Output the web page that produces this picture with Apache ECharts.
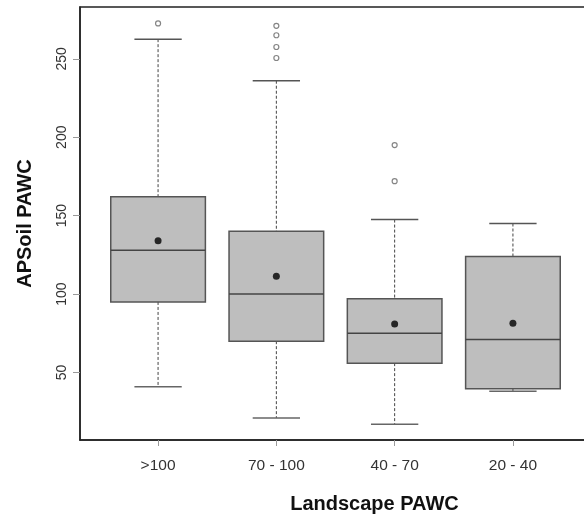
<!DOCTYPE html>
<html>
<head>
<meta charset="utf-8">
<script src="https://cdn.jsdelivr.net/npm/echarts@6/dist/echarts.min.js"></script>
<style>
  html, body { margin: 0; padding: 0; background: #fff; }
  #chart { width: 584px; height: 515px; }
</style>
</head>
<body>
<div id="chart"></div>
<script>
// 类别
const categories = ['>100', '70 - 100', '40 - 70', '20 - 40'];
// 每个箱子: [下须, Q1, 中位数, Q3, 上须]
const lowWhisker = [41, 21, 17, 38];
const q1 = [95, 70, 56, 39.6];
const median = [128, 100, 75, 71];
const q3 = [162, 140, 97, 124];
const highWhisker = [262.5, 236, 147.5, 145];
const means = [134, 111.3, 81, 81.4];
// 离群点, 按类别
const outliers = [[272.5], [271, 265, 257.5, 250.5], [195, 172], []];
const yTicks = [50, 100, 150, 200, 250];

const chart = echarts.init(document.getElementById('chart'), null, { renderer: 'canvas' });

const boxData = categories.map((c, i) => [i + 1, lowWhisker[i], q1[i], median[i], q3[i], highWhisker[i]]);
const meanData = categories.map((c, i) => [i + 1, means[i]]);
const outlierData = [];
outliers.forEach((list, i) => list.forEach(v => outlierData.push([i + 1, v])));

function renderBox(params, api) {
  const x = api.value(0);
  const lo = api.coord([x, api.value(1)]);
  const b1 = api.coord([x, api.value(2)]);
  const md = api.coord([x, api.value(3)]);
  const b3 = api.coord([x, api.value(4)]);
  const hi = api.coord([x, api.value(5)]);
  const band = api.size([1, 0])[0];
  const half = band * 0.4;
  const cap = band * 0.2;
  const cx = lo[0];
  return {
    type: 'group',
    children: [
      { type: 'line', shape: { x1: cx, y1: hi[1], x2: cx, y2: b3[1] },
        style: { stroke: '#444', lineWidth: 1, lineDash: [3, 2] } },
      { type: 'line', shape: { x1: cx, y1: b1[1], x2: cx, y2: lo[1] },
        style: { stroke: '#444', lineWidth: 1, lineDash: [3, 2] } },
      { type: 'line', shape: { x1: cx - cap, y1: hi[1], x2: cx + cap, y2: hi[1] },
        style: { stroke: '#555', lineWidth: 1.5 } },
      { type: 'line', shape: { x1: cx - cap, y1: lo[1], x2: cx + cap, y2: lo[1] },
        style: { stroke: '#666', lineWidth: 1.5 } },
      { type: 'rect', shape: { x: cx - half, y: b3[1], width: half * 2, height: b1[1] - b3[1] },
        style: { fill: '#bebebe', stroke: '#555', lineWidth: 1.5 } },
      { type: 'line', shape: { x1: cx - half, y1: md[1], x2: cx + half, y2: md[1] },
        style: { stroke: '#444', lineWidth: 1.5 } }
    ]
  };
}

const option = {
  animation: false,
  grid: {
    left: 80, width: 511, top: 7, bottom: 75,
    outerBoundsMode: 'none',
    containLabel: false,
    show: true, borderColor: '#222', borderWidth: 1.5, backgroundColor: 'transparent'
  },
  xAxis: {
    type: 'value',
    min: 0.34, max: 4.66,
    name: 'Landscape PAWC',
    nameLocation: 'middle',
    nameGap: 54,
    nameTextStyle: { fontFamily: 'Liberation Sans', fontSize: 20, fontWeight: 'bold', color: '#111', padding: [0, 0, 0, 78] },
    splitLine: { show: false },
    axisLine: { show: true, onZero: false, lineStyle: { color: '#222', width: 1.5 } },
    axisTick: { show: true, customValues: [1, 2, 3, 4], length: 6, lineStyle: { color: '#999' } },
    axisLabel: {
      customValues: [1, 2, 3, 4],
      formatter: v => categories[Math.round(v) - 1] || '',
      fontFamily: 'Liberation Sans', fontSize: 15.5, color: '#333', margin: 18
    }
  },
  yAxis: {
    type: 'value',
    min: 7, max: 283,
    name: 'APSoil PAWC',
    nameLocation: 'middle',
    nameGap: 45,
    nameTextStyle: { fontFamily: 'Liberation Sans', fontSize: 20, fontWeight: 'bold', color: '#111' },
    splitLine: { show: false },
    axisLine: { show: true, lineStyle: { color: '#222', width: 1.5 } },
    axisTick: { show: true, customValues: yTicks, length: 7, lineStyle: { color: '#999' } },
    axisLabel: {
      customValues: yTicks,
      rotate: 90,
      fontFamily: 'Liberation Sans', fontSize: 14, color: '#333', margin: 11
    }
  },
  series: [
    {
      type: 'custom',
      renderItem: renderBox,
      data: boxData,
      encode: { x: 0, y: [1, 2, 3, 4, 5] },
      z: 2
    },
    {
      type: 'scatter',
      data: outlierData,
      symbol: 'circle',
      symbolSize: 5,
      itemStyle: { color: '#fff', borderColor: '#666', borderWidth: 1.2 },
      z: 3
    },
    {
      type: 'scatter',
      data: meanData,
      symbol: 'circle',
      symbolSize: 7,
      itemStyle: { color: '#000' },
      z: 4
    }
  ]
};

chart.setOption(option);
</script>
</body>
</html>
